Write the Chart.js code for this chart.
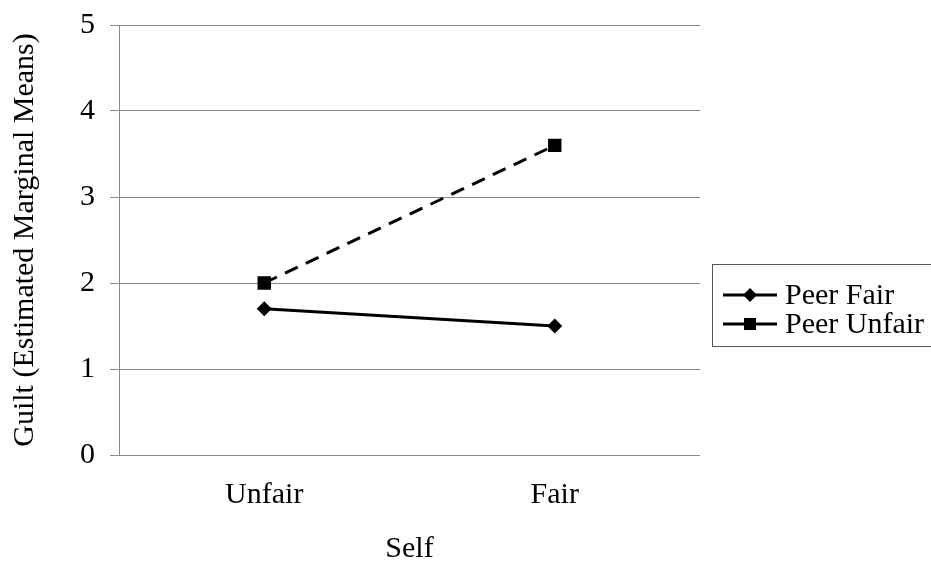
<!DOCTYPE html>
<html>
<head>
<meta charset="utf-8">
<script src="https://cdn.jsdelivr.net/npm/chart.js@4.4.0/dist/chart.umd.min.js"></script>
<style>
  html, body { margin: 0; padding: 0; background: #fff; font-family: "Liberation Serif", serif; }
  #wrap { width: 931px; height: 561px; }
  .pre { font-family: "Liberation Serif"; position: absolute; left: -9999px; }
</style>
</head>
<body>
<span class="pre">Preload</span>
<div id="wrap"><canvas id="c" width="931" height="561"></canvas></div>
<script>
const categories = ["Unfair", "Fair"];
const peerFair = [1.7, 1.5];
const peerUnfair = [2.0, 3.6];
const seriesNames = ["Peer Fair", "Peer Unfair"];
const yTicks = [0, 1, 2, 3, 4, 5];
const yTitle = "Guilt (Estimated Marginal Means)";
const xTitle = "Self";

const FONT = '"Liberation Serif", "Times New Roman", serif';
const FS = 30;

const legendPlugin = {
  id: 'boxLegend',
  afterDraw(chart) {
    const ctx = chart.ctx;
    ctx.save();
    ctx.strokeStyle = '#555';
    ctx.lineWidth = 1;
    ctx.strokeRect(712.5, 264.5, 240, 82);
    const rows = [295, 324];
    chart.data.datasets.forEach((ds, i) => {
      const y = rows[i];
      ctx.strokeStyle = '#000';
      ctx.lineWidth = 3;
      ctx.setLineDash([]);
      ctx.beginPath();
      ctx.moveTo(723, y);
      ctx.lineTo(777, y);
      ctx.stroke();
      ctx.fillStyle = '#000';
      if (ds.pointStyle === 'rect') {
        ctx.fillRect(744, y - 6, 12, 12);
      } else {
        ctx.beginPath();
        ctx.moveTo(750, y - 7);
        ctx.lineTo(757, y);
        ctx.lineTo(750, y + 7);
        ctx.lineTo(743, y);
        ctx.closePath();
        ctx.fill();
      }
      ctx.font = FS + "px " + FONT;
      ctx.textBaseline = 'middle';
      ctx.textAlign = 'left';
      ctx.fillText(ds.label, 785, y + 1);
    });
    ctx.restore();
  }
};

function draw() {
  new Chart(document.getElementById('c'), {
    type: 'line',
    data: {
      labels: categories,
      datasets: [
        {
          label: seriesNames[0],
          data: peerFair,
          borderColor: '#000',
          backgroundColor: '#000',
          borderWidth: 3,
          pointStyle: 'rectRot',
          pointRadius: 7.5,
          pointBorderWidth: 0,
          fill: false,
          tension: 0
        },
        {
          label: seriesNames[1],
          data: peerUnfair,
          borderColor: '#000',
          backgroundColor: '#000',
          borderWidth: 3,
          borderDash: [14, 9],
          pointStyle: 'rect',
          pointRadius: 9.5,
          pointBorderWidth: 0,
          fill: false,
          tension: 0
        }
      ]
    },
    options: {
      responsive: false,
      animation: false,
      devicePixelRatio: 1,
      layout: { padding: { top: 25, right: 231, left: 0, bottom: 0 } },
      plugins: {
        legend: { display: false },
        tooltip: { enabled: false }
      },
      scales: {
        x: {
          type: 'category',
          offset: true,
          grid: { display: false },
          border: { display: false },
          ticks: { color: '#000', font: { family: FONT, size: FS }, padding: 14 },
          title: { display: true, text: xTitle, color: '#000', font: { family: FONT, size: FS, lineHeight: 1 }, padding: { top: 0, bottom: -3 } },
          afterFit(scale) { scale.height = 106; scale.paddingLeft = 0; scale.paddingRight = 0; }
        },
        y: {
          min: 0,
          max: 5,
          afterBuildTicks(scale) { scale.ticks = yTicks.map(v => ({ value: v })); },
          grid: { color: '#8a8a8a', lineWidth: 1, tickLength: 9, drawTicks: true },
          border: { display: true, color: '#8a8a8a', width: 1 },
          ticks: { color: '#000', font: { family: FONT, size: FS }, padding: 15 },
          title: { display: true, text: yTitle, color: '#000', font: { family: FONT, size: FS, lineHeight: 1.2 }, padding: { top: 7, bottom: 0 } },
          afterFit(scale) { scale.width = 119; scale.paddingTop = 0; scale.paddingBottom = 0; }
        }
      }
    },
    plugins: [legendPlugin]
  });
}

if (document.fonts && document.fonts.load) {
  document.fonts.load(FS + 'px "Liberation Serif"').then(draw, draw);
} else {
  draw();
}
</script>
</body>
</html>
